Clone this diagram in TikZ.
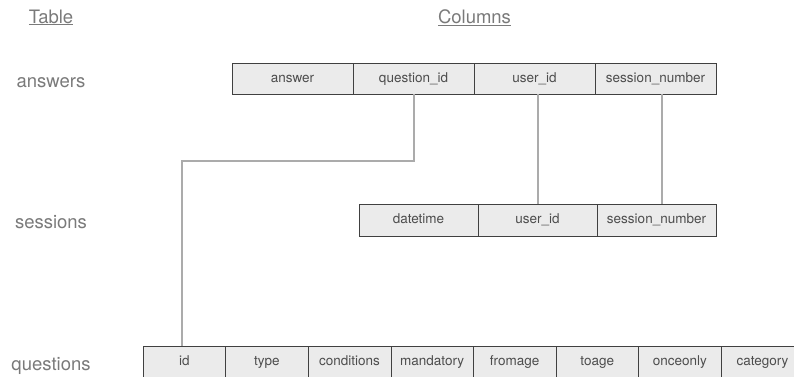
\documentclass[tikz,border=0pt]{standalone}
\usepackage{fontspec}
\setmainfont{TeX Gyre Heros}
\usetikzlibrary{positioning}
\definecolor{cellfill}{HTML}{EBEBEB}
\definecolor{celltext}{HTML}{4D4D4D}
\definecolor{labeltext}{HTML}{7A7A7A}
\definecolor{linkgray}{HTML}{ABABAB}

\begin{document}
\begin{tikzpicture}[x=1pt, y=-1pt,
    cell/.style={draw=black!75, fill=cellfill, inner sep=0pt, outer sep=0pt, minimum height=32pt, text height=10pt, text depth=3pt, text=celltext, font=\fontsize{13.5}{15}\selectfont},
    acell/.style={cell, minimum width=121pt, minimum height=31pt},
    scell/.style={cell, minimum width=119pt},
    qcell/.style={cell, minimum width=82.6pt},
    link/.style={draw=linkgray, line width=2pt},
    tname/.style={anchor=base, text=labeltext, font=\fontsize{18.5}{20}\selectfont}]
    
    \useasboundingbox (0,0) rectangle (794,376);
    
    % headings and table names
    \node[tname] (head-table) at (51,23) {\underline{Table}};
    \node[tname] (head-cols) at (474.5,23) {\underline{Columns}};
    \node[tname] (lab-ans) at (51,87) {answers};
    \node[tname] (lab-ses) at (51,228.5) {sessions};
    \node[tname] (lab-q) at (51,370.5) {questions};
    
    % answers
    \node[acell, anchor=west] (ans-answer) at (232,78.5) {answer};
    \node[acell, right=0pt of ans-answer] (ans-qid) {question\_id};
    \node[acell, right=0pt of ans-qid] (ans-uid) {user\_id};
    \node[acell, right=0pt of ans-uid] (ans-sn) {session\_number};
    
    % sessions
    \node[scell, anchor=west] (ses-dt) at (359,220) {datetime};
    \node[scell, right=0pt of ses-dt] (ses-uid) {user\_id};
    \node[scell, right=0pt of ses-uid] (ses-sn) {session\_number};
    
    % questions
    \node[qcell, anchor=west] (q-id) at (143,362) {id};
    \node[qcell, right=0pt of q-id] (q-type) {type};
    \node[qcell, right=0pt of q-type] (q-cond) {conditions};
    \node[qcell, right=0pt of q-cond] (q-mand) {mandatory};
    \node[qcell, right=0pt of q-mand] (q-from) {fromage};
    \node[qcell, right=0pt of q-from] (q-to) {toage};
    \node[qcell, right=0pt of q-to] (q-once) {onceonly};
    \node[qcell, right=0pt of q-once] (q-cat) {category};
    
    % keys
    \draw[link] (ans-qid.south) -- ++(0,67) -| ([xshift=-2pt]q-id.north);
    \draw[link] (ses-uid.north) -- (ses-uid.north |- ans-uid.south);
    \draw[link] ([xshift=5pt]ses-sn.north) -- ([xshift=5pt]ses-sn.north |- ans-sn.south);
    
\end{tikzpicture}
\end{document}
